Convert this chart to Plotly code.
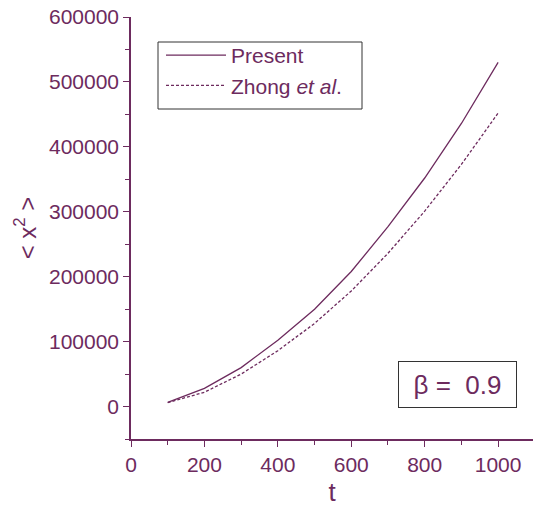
import plotly.graph_objects as go

t = [100, 200, 300, 400, 500, 600, 700, 800, 900, 1000]
present = [6500, 28000, 60000, 102000, 150000, 208000, 277000, 352000, 436000, 530000]
zhong = [6000, 22000, 50000, 86000, 128000, 178000, 236000, 301000, 373000, 452000]

C = "#6d2b5e"
FONT = "Liberation Sans, Arial, sans-serif"
L, T, W, H = 131, 17, 402, 422  # plot area in pixels

def px(x):
    return (x - L) / W

def py(y):
    return (T + H - y) / H

fig = go.Figure()
fig.add_trace(go.Scatter(x=t, y=present, mode="lines", name="Present",
                         line=dict(color=C, width=1.3)))
fig.add_trace(go.Scatter(x=t, y=zhong, mode="lines", name="Zhong&nbsp;<i>et al</i>.",
                         line=dict(color=C, width=1.3, dash="3px,2px")))

axis_common = dict(showgrid=False, zeroline=False, showline=True, linecolor=C, linewidth=1.5,
                   ticks="outside", ticklen=6, tickwidth=1, tickcolor=C, automargin=False,
                   tickfont=dict(family=FONT, size=21, color=C))

fig.update_layout(
    width=534, height=510,
    margin=dict(l=L, r=534 - L - W, t=T, b=510 - T - H, autoexpand=False),
    plot_bgcolor="white", paper_bgcolor="white",
    font=dict(family=FONT, color=C),
    xaxis=dict(range=[0, 1095], tickvals=[0, 200, 400, 600, 800, 1000],
               minor=dict(tickvals=[100, 300, 500, 700, 900], ticks="outside", ticklen=4, tickcolor=C),
               title=dict(text="t", font=dict(family=FONT, size=26, color=C), standoff=8),
               **axis_common),
    yaxis=dict(range=[-50000, 600000], tickvals=[0, 100000, 200000, 300000, 400000, 500000, 600000],
               ticktext=["0", "100000", "200000", "300000", "400000", "500000", "600000"],
               minor=dict(tickvals=[-50000, 50000, 150000, 250000, 350000, 450000, 550000],
                          ticks="outside", ticklen=4, tickcolor=C),
               title=dict(text="< x<sup>2</sup> >", font=dict(family=FONT, size=24, color=C), standoff=6),
               **axis_common),
    legend=dict(x=px(161), y=py(35), xanchor="left", yanchor="top",
                borderwidth=0, bgcolor="rgba(0,0,0,0)",
                font=dict(family=FONT, size=21, color=C), itemwidth=60,
                tracegroupgap=0),
    showlegend=True,
)

# legend frame
fig.add_shape(type="rect", xref="paper", yref="paper",
              x0=px(158), x1=px(362), y0=py(109), y1=py(42),
              line=dict(color="#333333", width=1), fillcolor="white", layer="below")

fig.add_annotation(xref="paper", yref="paper", x=px(457.5), y=py(384.5),
                   xanchor="center", yanchor="middle",
                   text="β =  0.9", showarrow=False, width=113, height=41, borderpad=2,
                   font=dict(family=FONT, size=26, color=C),
                   bordercolor="#333333", borderwidth=1, bgcolor="white")

fig.write_html("out.html", config={"displayModeBar": False},
               post_script="document.body.style.margin='0';")
